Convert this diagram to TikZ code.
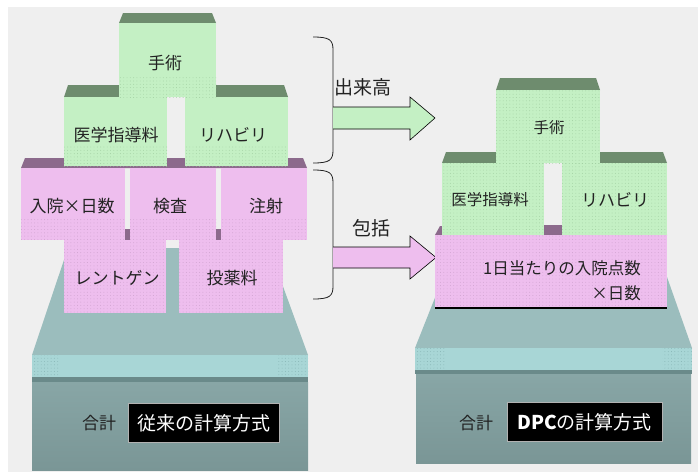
\documentclass[tikz,border=0pt]{standalone}
\usepackage{fontspec}
\setmainfont{Noto Sans CJK JP}
\usetikzlibrary{patterns}
\pgfdeclarepatternformonly{sparsedots}{\pgfqpoint{-1pt}{-1pt}}{\pgfqpoint{4.2pt}{4.2pt}}{\pgfqpoint{3.3pt}{3.3pt}}{\pgfpathcircle{\pgfqpoint{1.6pt}{1.6pt}}{0.45pt}\pgfusepath{fill}}
\definecolor{bgc}{HTML}{EFEFEF}
\definecolor{gbody}{HTML}{C4F0C4}
\definecolor{gtop}{HTML}{6E8C6E}
\definecolor{gdot}{HTML}{A2D0A2}
\definecolor{pbody}{HTML}{EEBEEE}
\definecolor{ptop}{HTML}{8C6A8C}
\definecolor{pdot}{HTML}{CFA2CF}
\definecolor{ttop}{HTML}{9BBDBD}
\definecolor{tstrip}{HTML}{A8D6D6}
\definecolor{tdot}{HTML}{86B4B4}
\definecolor{tline}{HTML}{6A8A8A}
\definecolor{tboxA}{HTML}{88A6A6}
\definecolor{tboxB}{HTML}{7A9696}
\definecolor{txt}{HTML}{222222}
\newcommand\drawblock[7]{% x1 x2 ytop yface ybottom topcolor bodycolor
  \fill[#6] ({#1+4},#3) -- ({#2-4},#3) -- (#2,#4) -- (#1,#4) -- cycle;
  \fill[#7] (#1,#4) rectangle (#2,#5);}
\begin{document}
\begin{tikzpicture}[x=1pt,y=-1pt,
  lbl/.style={text=txt,inner sep=0pt,font=\fontsize{17}{20}\selectfont},
  lbls/.style={text=txt,inner sep=0pt,font=\fontsize{15.5}{18}\selectfont},
  lblm/.style={text=txt,inner sep=0pt,font=\fontsize{16.5}{19}\selectfont},
  albl/.style={text=txt,inner sep=0pt,font=\fontsize{19}{22}\selectfont},
  blackbox/.style={fill=black,draw=gray!60,text=white,inner sep=0pt,minimum height=39pt,font=\fontsize{19}{22}\selectfont},
  gdots/.style={pattern=sparsedots,pattern color=gdot},
  pdots/.style={pattern=sparsedots,pattern color=pdot},
  tdots/.style={pattern=sparsedots,pattern color=tdot},
  bracket/.style={draw=txt,line width=0.8pt},
  blockarrow/.style={draw=black,line width=0.6pt}]
\useasboundingbox (0,0) rectangle (698,472);
\fill[white] (0,0) rectangle (698,472);
\fill[bgc] (8,7) rectangle (698,472);

% ---------- left base ----------
\fill[ttop] (68,248) -- (269,248) -- (308,355) -- (32,355) -- cycle;
\fill[tstrip] (32,355) rectangle (308,377);
\fill[tdots] (32,355) rectangle (60,377);
\fill[tdots] (276,355) rectangle (308,377);
\fill[tline] (32,377) rectangle (308,382);
\shade[top color=tboxA,bottom color=tboxB] (32,382) rectangle (308,470);

% lower pink row
\fill[pbody] (64,240) rectangle (166,313);
\fill[pdots] (64,242) rectangle (166,313);
\fill[pbody] (179,240) rectangle (283,313);
\fill[pdots] (179,242) rectangle (283,313);
% upper pink row
\fill[ptop] (25,158) -- (303,158) -- (307,168) -- (21,168) -- cycle;
\fill[pbody] (21,168) rectangle (125,240);
\fill[pbody] (130,168) rectangle (216,240);
\fill[pbody] (221,168) rectangle (307,240);
\fill[pdots] (21,218) rectangle (125,240);
\fill[pdots] (130,218) rectangle (216,240);
\fill[pdots] (221,218) rectangle (307,240);
\fill[ptop] (125,229) rectangle (130,240);
\fill[ptop] (216,229) rectangle (221,240);
% green middle row
\drawblock{64}{167}{85}{97}{166}{gtop}{gbody}
\drawblock{185}{288}{85}{97}{166}{gtop}{gbody}
\fill[gdots] (64,146) rectangle (167,166);
\fill[gdots] (185,146) rectangle (288,166);
% top block
\drawblock{119}{216}{13}{23}{97}{gtop}{gbody}
\fill[gdots] (119,75) rectangle (216,97);

\node[lbl] (shujutsuL) at (165,63) {手術};
\node[lbl] (igakuL) at (116,135) {医学指導料};
\node[lbl] (rihaL) at (233,135) {リハビリ};
\node[lbl] (nyuinL) at (72,206) {入院×日数};
\node[lbl] (kensaL) at (170,206) {検査};
\node[lbl] (chushaL) at (266,206) {注射};
\node[lbl] (rentgenL) at (117,278) {レントゲン};
\node[lbl] (toyakuL) at (232,278) {投薬料};
\node[lbl] (gokeiL) at (99,423) {合計};
\node[blackbox,minimum width=151pt] (methodL) at (203.5,423) {従来の計算方式};

% ---------- brackets and arrows ----------
\draw[bracket] (313,37) .. controls (330,37) and (333,40) .. (333,50) -- (333,150) .. controls (333,160) and (330,163) .. (313,163);
\draw[bracket] (313,170) .. controls (330,170) and (333,173) .. (333,183) -- (333,286) .. controls (333,296) and (330,299) .. (313,299);
\coordinate (b1) at (333,118);
\coordinate (b2) at (333,257.5);
\filldraw[blockarrow,fill=gbody] (333,107) -- (410,107) -- (410,97) -- (435,118) -- (410,140) -- (410,129) -- (333,129);
\filldraw[blockarrow,fill=pbody] (333,247) -- (410,247) -- (410,236) -- (436,257.5) -- (410,279) -- (410,268) -- (333,268);
\node[albl] (dekidaka) at (363,87) {出来高};
\node[albl] (hokatsu) at (371,228) {包括};

% ---------- right base ----------
\fill[ttop] (415,348) -- (440,285) -- (667,277) -- (692,348) -- cycle;
\fill[tstrip] (415,348) rectangle (692,370);
\fill[tdots] (415,348) rectangle (445,370);
\fill[tdots] (662,348) rectangle (692,370);
\fill[tline] (415,370) rectangle (692,374);
\shade[top color=tboxA,bottom color=tboxB] (416,374) rectangle (691,463);

% pink block
\fill[ptop] (440,226) -- (663,226) -- (667,235) -- (435,235) -- cycle;
\fill[pbody] (435,235) rectangle (667,308);
\fill[pdots] (435,235) rectangle (667,308);
\draw[black,line width=1.2pt] (435,308) -- (667,308);
% green blocks
\drawblock{442}{544}{152}{163}{235}{gtop}{gbody}
\drawblock{562}{667}{152}{163}{235}{gtop}{gbody}
\fill[gdots] (442,163) rectangle (544,235);
\fill[gdots] (562,163) rectangle (667,235);
\fill[ptop] (544,225) rectangle (562,235);
\drawblock{496}{600}{78}{90}{163}{gtop}{gbody}
\fill[gdots] (496,90) rectangle (600,163);

\node[lbls] (shujutsuR) at (549,128) {手術};
\node[lbls] (igakuR) at (490,200) {医学指導料};
\node[lbl] (rihaR) at (615,200) {リハビリ};
\node[lblm,anchor=east] (ichinichi) at (641,268) {1日当たりの入院点数};
\node[lblm,anchor=east] (nissu) at (641,293) {×日数};
\node[lbl] (gokeiR) at (476,423) {合計};
\node[blackbox,minimum width=155pt] (methodR) at (584.5,422) {\textbf{DPC}の計算方式};
\end{tikzpicture}
\end{document}
